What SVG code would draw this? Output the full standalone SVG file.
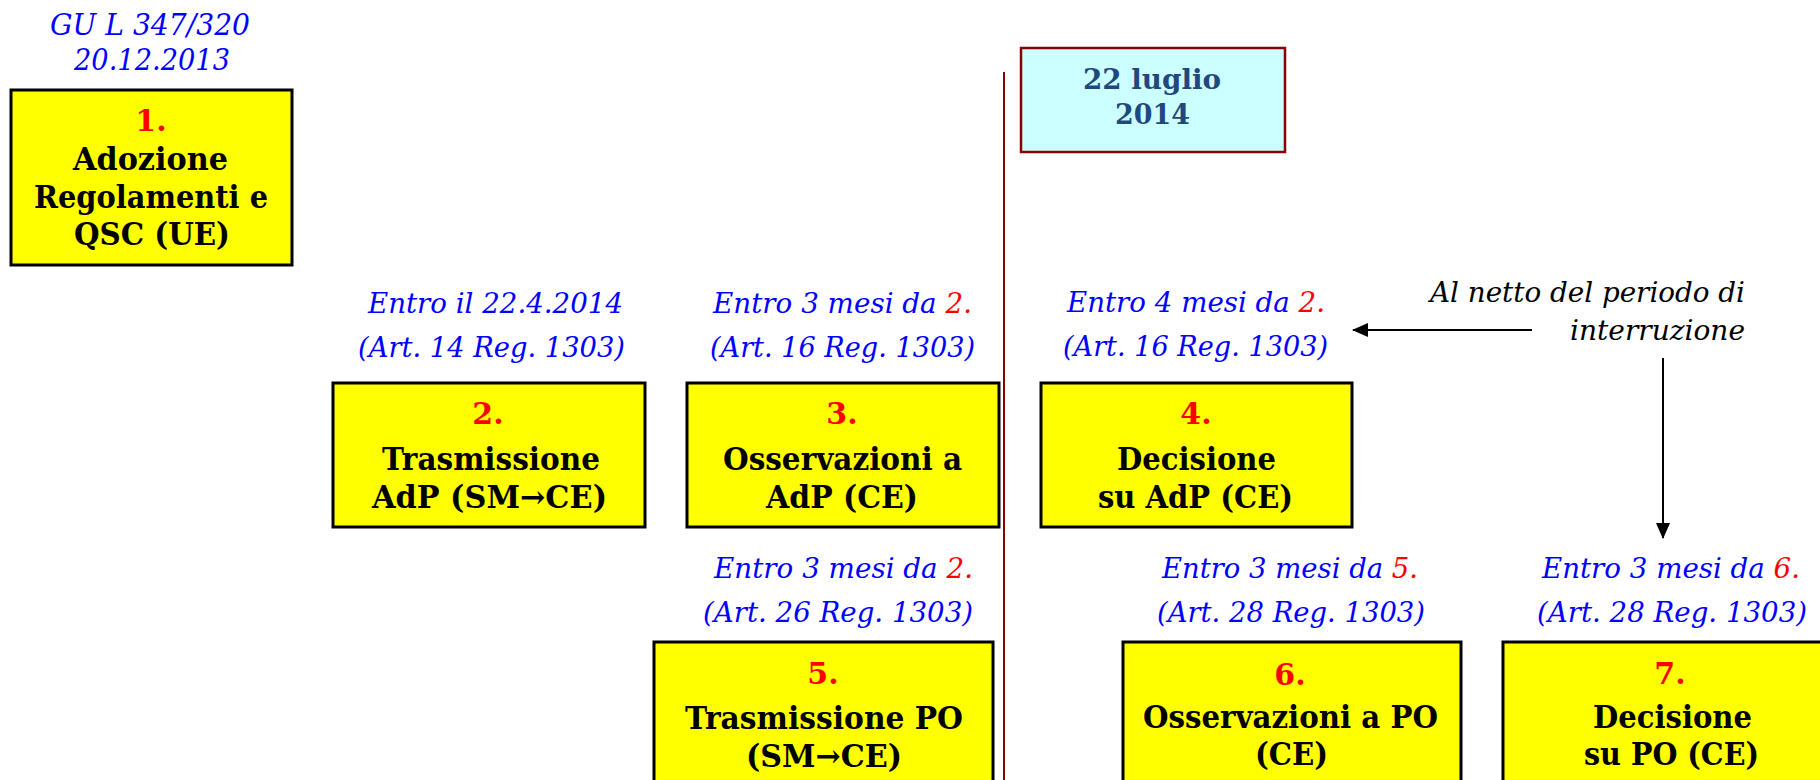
<svg xmlns="http://www.w3.org/2000/svg" width="1820" height="780" viewBox="0 0 1820 780">
<style>
.box{fill:#FFFF00;stroke:#000;stroke-width:3}
.dbox{fill:#CCFFFF;stroke:#8B0000;stroke-width:2.5}
.bt{font-family:"DejaVu Serif",serif;font-weight:bold;font-size:31px;fill:#000}
.num{font-family:"DejaVu Serif",serif;font-weight:bold;font-size:30px;fill:#FF0000;text-anchor:middle}
.lbl{font-family:"DejaVu Serif",serif;font-style:italic;font-size:27px;fill:#0000FF}
.red{fill:#FF0000}
.note{font-family:"DejaVu Serif",serif;font-style:italic;font-size:28px;fill:#000}
.date{font-family:"DejaVu Serif",serif;font-weight:bold;font-size:28px;fill:#1F497D}
.conn{stroke:#000;stroke-width:2;fill:none}
.tl{stroke:#8B0000;stroke-width:2;fill:none}
</style>
<defs>
<marker id="ah" markerUnits="userSpaceOnUse" markerWidth="16" markerHeight="16" viewBox="0 0 16 16" refX="15" refY="8" orient="auto">
<path d="M0,1 L16,8 L0,15 Z" fill="#000"/>
</marker>
</defs>
<rect width="1820" height="780" fill="#fff"/>

<line class="tl" x1="1004" y1="72" x2="1004" y2="780"/>

<g id="header-gu">
<text class="lbl" x="50" y="35" textLength="200" lengthAdjust="spacingAndGlyphs" style="font-size:29px">GU L 347/320</text>
<text class="lbl" x="74" y="70" textLength="156" lengthAdjust="spacingAndGlyphs" style="font-size:29px">20.12.2013</text>
</g>

<g id="node-1">
<rect class="box" x="11" y="90" width="281" height="175"/>
<text class="num" x="151" y="131">1.</text>
<text class="bt" x="73" y="170" textLength="155" lengthAdjust="spacingAndGlyphs">Adozione</text>
<text class="bt" x="34" y="208" textLength="234" lengthAdjust="spacingAndGlyphs">Regolamenti e</text>
<text class="bt" x="74" y="245" textLength="156" lengthAdjust="spacingAndGlyphs">QSC (UE)</text>
</g>

<g id="date-box">
<rect class="dbox" x="1021" y="48" width="264" height="104"/>
<text class="date" x="1083" y="89" textLength="138" lengthAdjust="spacingAndGlyphs">22 luglio</text>
<text class="date" x="1115" y="124" textLength="75" lengthAdjust="spacingAndGlyphs">2014</text>
</g>

<g id="node-2">
<text class="lbl" x="368" y="313" textLength="255" lengthAdjust="spacingAndGlyphs">Entro il 22.4.2014</text>
<text class="lbl" x="358" y="357" textLength="267" lengthAdjust="spacingAndGlyphs">(Art. 14 Reg. 1303)</text>
<rect class="box" x="333" y="383" width="312" height="144"/>
<text class="num" x="488" y="424">2.</text>
<text class="bt" x="382" y="470" textLength="218" lengthAdjust="spacingAndGlyphs">Trasmissione</text>
<text class="bt" x="372" y="508" textLength="235" lengthAdjust="spacingAndGlyphs">AdP (SM→CE)</text>
</g>

<g id="node-3">
<text class="lbl" x="713" y="313" textLength="259" lengthAdjust="spacingAndGlyphs">Entro 3 mesi da <tspan class="red">2.</tspan></text>
<text class="lbl" x="710" y="357" textLength="265" lengthAdjust="spacingAndGlyphs">(Art. 16 Reg. 1303)</text>
<rect class="box" x="687" y="383" width="312" height="144"/>
<text class="num" x="842" y="424">3.</text>
<text class="bt" x="723" y="470" textLength="239" lengthAdjust="spacingAndGlyphs">Osservazioni a</text>
<text class="bt" x="766" y="508" textLength="152" lengthAdjust="spacingAndGlyphs">AdP (CE)</text>
</g>

<g id="node-4">
<text class="lbl" x="1067" y="312" textLength="258" lengthAdjust="spacingAndGlyphs">Entro 4 mesi da <tspan class="red">2.</tspan></text>
<text class="lbl" x="1063" y="356" textLength="265" lengthAdjust="spacingAndGlyphs">(Art. 16 Reg. 1303)</text>
<rect class="box" x="1041" y="383" width="311" height="144"/>
<text class="num" x="1196" y="424">4.</text>
<text class="bt" x="1117" y="470" textLength="159" lengthAdjust="spacingAndGlyphs">Decisione</text>
<text class="bt" x="1098" y="508" textLength="195" lengthAdjust="spacingAndGlyphs">su AdP (CE)</text>
</g>

<g id="note-interruzione">
<text class="note" x="1430" y="302" textLength="315" lengthAdjust="spacingAndGlyphs">Al netto del periodo di</text>
<text class="note" x="1570" y="340" textLength="175" lengthAdjust="spacingAndGlyphs">interruzione</text>
</g>

<g id="node-5">
<text class="lbl" x="714" y="578" textLength="259" lengthAdjust="spacingAndGlyphs">Entro 3 mesi da <tspan class="red">2.</tspan></text>
<text class="lbl" x="703" y="622" textLength="270" lengthAdjust="spacingAndGlyphs">(Art. 26 Reg. 1303)</text>
<rect class="box" x="654" y="642" width="339" height="170"/>
<text class="num" x="823" y="684">5.</text>
<text class="bt" x="685" y="729" textLength="278" lengthAdjust="spacingAndGlyphs">Trasmissione PO</text>
<text class="bt" x="746" y="767" textLength="156" lengthAdjust="spacingAndGlyphs">(SM→CE)</text>
</g>

<g id="node-6">
<text class="lbl" x="1162" y="578" textLength="256" lengthAdjust="spacingAndGlyphs">Entro 3 mesi da <tspan class="red">5.</tspan></text>
<text class="lbl" x="1157" y="622" textLength="268" lengthAdjust="spacingAndGlyphs">(Art. 28 Reg. 1303)</text>
<rect class="box" x="1123" y="642" width="338" height="170"/>
<text class="num" x="1290" y="685">6.</text>
<text class="bt" x="1143" y="728" textLength="295" lengthAdjust="spacingAndGlyphs">Osservazioni a PO</text>
<text class="bt" x="1255" y="765" textLength="73" lengthAdjust="spacingAndGlyphs">(CE)</text>
</g>

<g id="node-7">
<text class="lbl" x="1542" y="578" textLength="258" lengthAdjust="spacingAndGlyphs">Entro 3 mesi da <tspan class="red">6.</tspan></text>
<text class="lbl" x="1537" y="622" textLength="270" lengthAdjust="spacingAndGlyphs">(Art. 28 Reg. 1303)</text>
<rect class="box" x="1503" y="642" width="338" height="170"/>
<text class="num" x="1670" y="684">7.</text>
<text class="bt" x="1593" y="728" textLength="159" lengthAdjust="spacingAndGlyphs">Decisione</text>
<text class="bt" x="1584" y="765" textLength="175" lengthAdjust="spacingAndGlyphs">su PO (CE)</text>
</g>

<g id="connectors">
<line class="conn" x1="1532" y1="330" x2="1353" y2="330" marker-end="url(#ah)"/>
<line class="conn" x1="1663" y1="358" x2="1663" y2="538" marker-end="url(#ah)"/>
</g>
</svg>
